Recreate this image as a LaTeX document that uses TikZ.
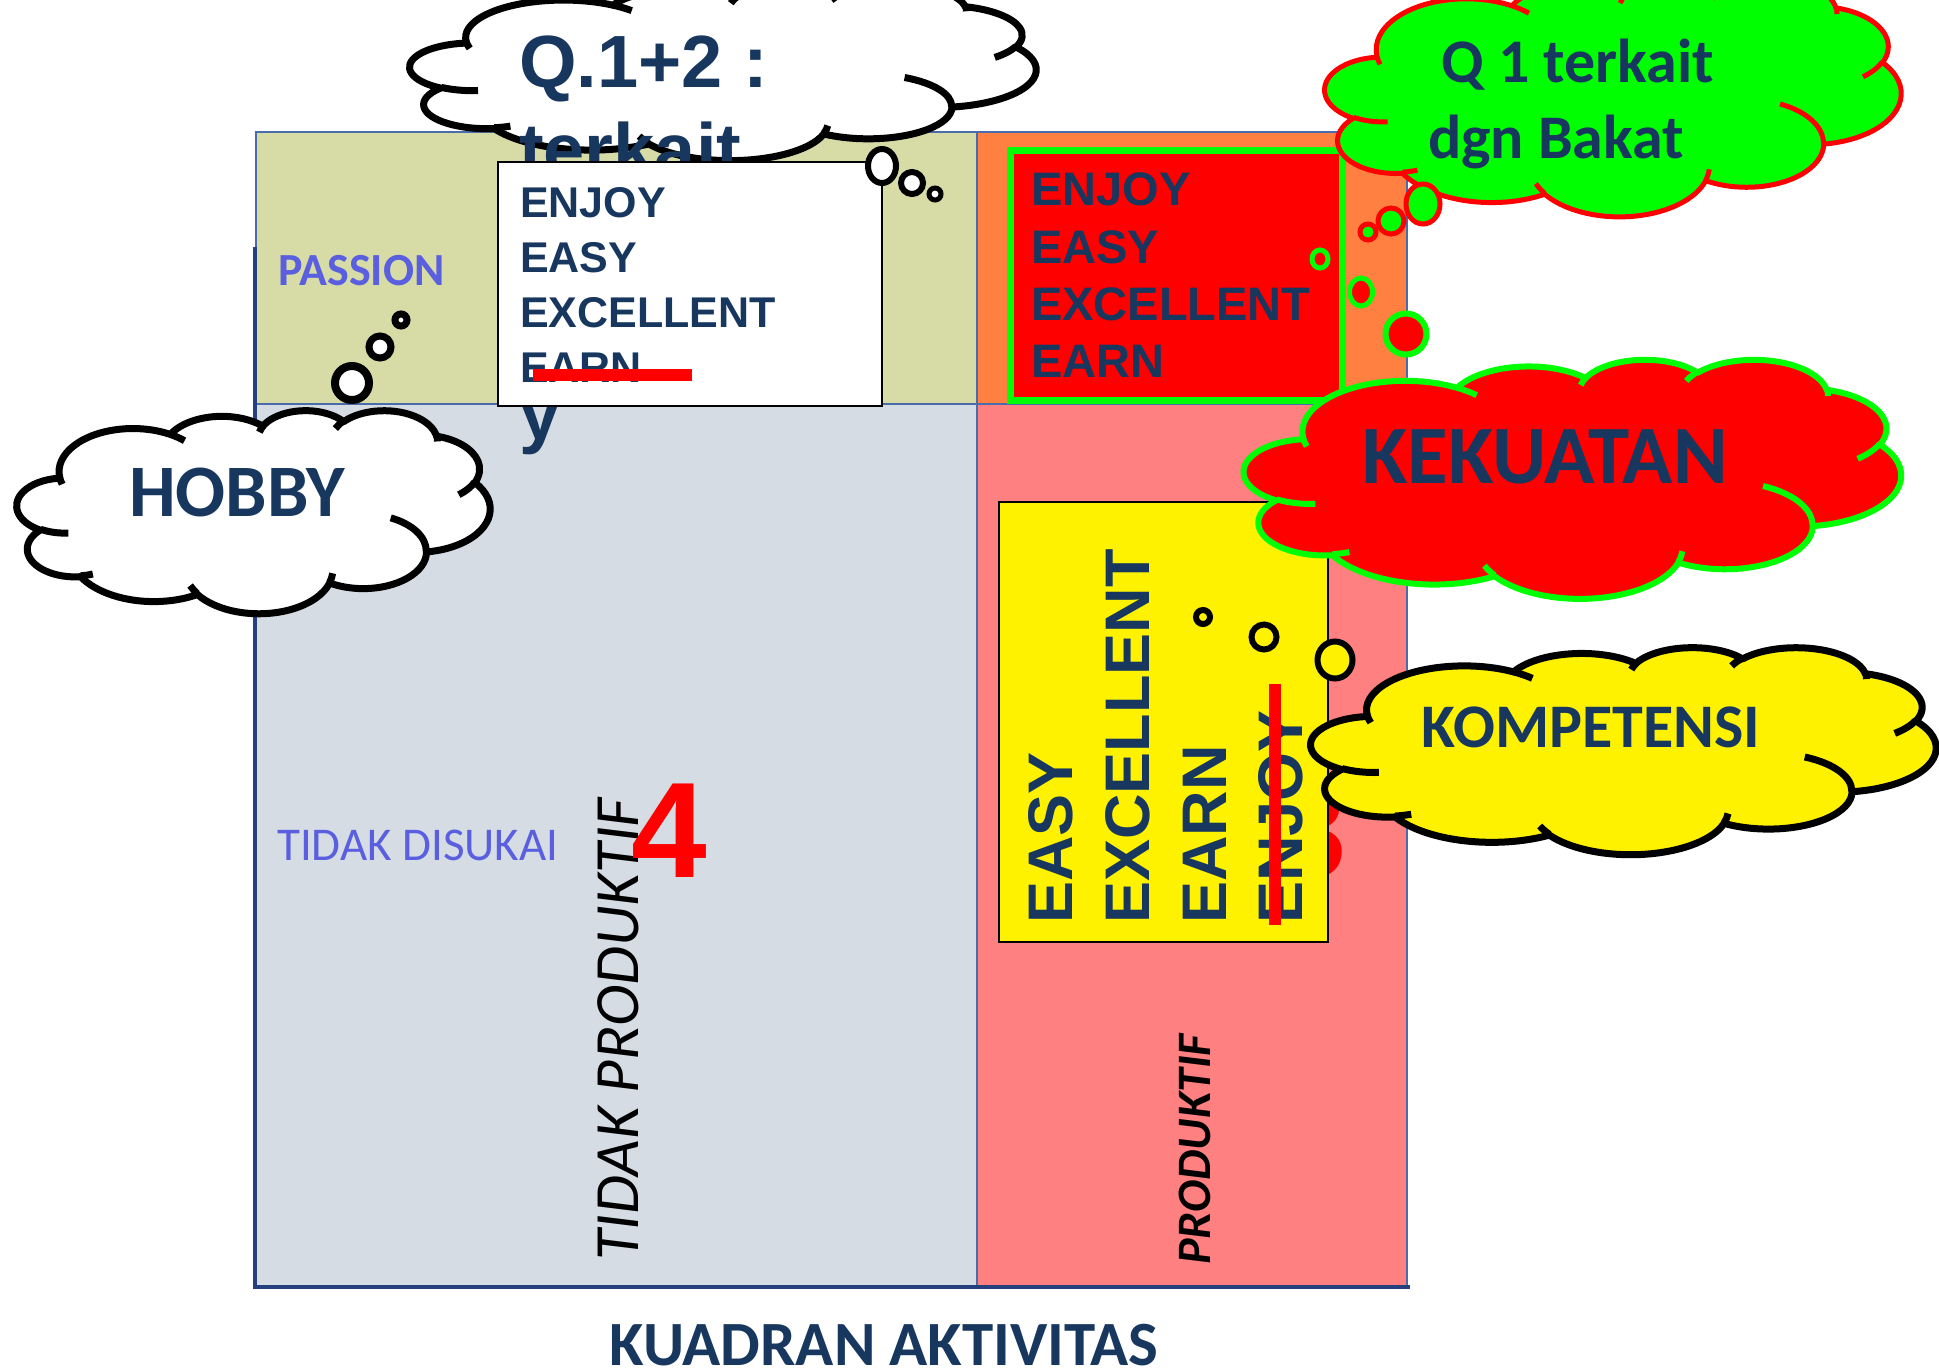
\documentclass[tikz,border=0pt]{standalone}
\usepackage{fontspec}
\newfontfamily\calibri{Carlito}
\newfontfamily\arial{Liberation Sans}

\definecolor{navy}{HTML}{17375E}
\definecolor{lilac}{HTML}{5A5FE0}
\definecolor{khaki}{HTML}{D7DBA5}
\definecolor{bluegray}{HTML}{D5DCE4}
\definecolor{orangeq}{HTML}{FF8040}
\definecolor{salmon}{HTML}{FF8080}
\definecolor{framec}{HTML}{4A6CAA}
\definecolor{axisc}{HTML}{24407F}

% oblak (cloud) v ramecku 43.2 x 43.2, posunuty do (#1,#2), sirka #3, vyska #4
\newcommand{\pptcloud}[5]{%
  \begin{scope}[shift={(#1,#2)},xscale=#3/43.2,yscale=#4/43.2]
    \path[#5,line join=round] (3.900,14.370)
      \foreach \ra/\rb/\sa/\wa
        [evaluate=\sa as \ts using {atan2(\ra*sin(\sa),\rb*cos(\sa))},
         evaluate=\wa as \dt using {mod(atan2(\ra*sin(\sa+\wa),\rb*cos(\sa+\wa))-atan2(\ra*sin(\sa),\rb*cos(\sa))+720,360)}]
      in {6.753/9.190/-190.4875/123.7805, 5.333/7.267/-144.1024/89.9452,
          4.365/5.945/-145.8079/99.7230,  4.857/6.595/-130.9861/117.2417,
          5.333/7.273/-78.7089/109.0269,  6.775/9.220/-46.2673/130.2690,
          5.785/7.867/0.6250/114.0333,    6.752/9.215/22.4516/115.1726,
          7.720/10.543/66.2426/75.7110,   4.360/5.918/-274.9421/146.7356,
          4.345/5.945/-246.8285/152.5189}
      { arc[x radius=\ra,y radius=\rb,start angle=\ts,delta angle=\dt] } -- cycle;
    \path[#5,fill=none]
      \foreach \px/\py/\ra/\rb/\sa/\wa
        [evaluate=\sa as \ts using {atan2(\ra*sin(\sa),\rb*cos(\sa))},
         evaluate=\wa as \dt using {mod(atan2(\ra*sin(\sa+\wa),\rb*cos(\sa+\wa))-atan2(\ra*sin(\sa),\rb*cos(\sa))+720,360)}]
      in {4.693/26.177/4.345/5.945/86.7420/26.4295,
          6.928/34.899/4.360/5.918/73.6105/11.4475,
          16.478/39.090/6.752/9.215/137.6242/14.0811,
          28.827/34.751/6.752/9.215/6.4533/15.9984,
          34.129/22.954/5.785/7.867/-70.2924/70.9174,
          41.798/15.354/5.333/7.273/30.3180/27.7515,
          38.324/5.426/4.857/6.595/-13.7443/14.8589,
          29.078/3.952/4.857/6.595/-149.1815/18.1954,
          22.141/4.720/4.365/5.945/-163.4943/17.6864,
          14.000/5.192/6.753/9.190/-66.7070/12.3194,
          4.127/15.789/6.753/9.190/157.6544/11.8582}
      { (\px,\py) arc[x radius=\ra,y radius=\rb,start angle=\ts,delta angle=\dt] };
  \end{scope}}

\tikzset{
  txt/.style={inner sep=0pt,text=navy},
  arialtxt/.style={txt,font=\arial\bfseries\fontsize{#1}{#1}\selectfont},
  calitxt/.style={txt,font=\calibri\bfseries\fontsize{#1}{#1}\selectfont},
  frameline/.style={draw=framec,line width=2pt},
  bubble/.style={line width=6pt},
}

\begin{document}
\begin{tikzpicture}[xscale=3.51459,yscale=-3.51459]

  \useasboundingbox (0,0) rectangle (19.39,13.72);

  \begin{scope}   % kvadranty

    \def\Lx{2.56};
    \def\Mx{9.77};
    \def\Rx{14.07};
    \def\Ty{1.32};
    \def\My{4.04};
    \def\By{12.86};
    \coordinate (TL) at (\Lx,\Ty);
    \coordinate (C)  at (\Mx,\My);
    \coordinate (BR) at (\Rx,\By);

    \fill[khaki]    (TL) rectangle (C);
    \fill[orangeq]  (\Mx,\Ty) rectangle (\Rx,\My);
    \fill[bluegray] (\Lx,\My) rectangle (\Mx,\By);
    \fill[salmon]   (C) rectangle (BR);
    \draw[frameline] (TL) rectangle (BR);
    \draw[frameline] (\Mx,\Ty) -- (\Mx,\By);
    \draw[frameline] (\Lx,\My) -- (\Rx,\My);
    \draw[draw=axisc,line width=4pt] (2.55,2.47) -- (2.55,12.87) -- (14.10,12.87);

    \node[calitxt=46,text=lilac,anchor=base west] (passion) at (2.78,2.85) {PASSION};
    \node[txt,text=lilac,font=\calibri\fontsize{47}{47}\selectfont,anchor=base west]
         (tidak) at (2.77,8.60) {TIDAK DISUKAI};
    \node[txt,text=black,font=\calibri\itshape\fontsize{63}{63}\selectfont,
          rotate=90,anchor=base west] (tidakprod) at (6.38,12.61) {TIDAK PRODUKTIF};
    \node[txt,text=red,font=\arial\bfseries\fontsize{136}{136}\selectfont,
          anchor=base west] (four) at (6.31,8.77) {4};
    \node[txt,text=red,font=\arial\bfseries\fontsize{136}{136}\selectfont,
          anchor=base east] (three) at (13.47,8.77) {3};
    \node[txt,text=black,font=\calibri\bfseries\itshape\fontsize{48}{48}\selectfont,
          rotate=90,anchor=base west] (prod) at (12.10,12.65) {PRODUKTIF};

  \end{scope}

  % Q.1+2 oblak
  \pptcloud{4.10}{-0.16}{6.26}{1.76}{draw=black,fill=white,line width=7pt}
  \node[arialtxt=74,anchor=base west] (qa) at (5.19,0.87) {Q.1+2 :};
  \node[arialtxt=74,anchor=base west] (qb) at (5.19,1.75) {terkait};
  \node[arialtxt=74,anchor=base west] (qc) at (5.19,4.39) {y};

  % bily ramecek
  \draw[fill=white,line width=1.5pt] (4.98,1.62) rectangle (8.82,4.06);
  \node[arialtxt=43,anchor=base west] (w1) at (5.20,2.17) {ENJOY};
  \node[arialtxt=43,anchor=base west] (w2) at (5.20,2.72) {EASY};
  \node[arialtxt=43,anchor=base west] (w3) at (5.20,3.27) {EXCELLENT};
  \node[arialtxt=43,anchor=base west] (w4) at (5.20,3.82) {EARN};
  \fill[red] (5.33,3.69) rectangle (6.92,3.81);

  \draw[bubble,fill=white] (8.82,1.66) ellipse[x radius=0.14,y radius=0.17];
  \draw[bubble,fill=white] (9.12,1.83) circle[radius=0.11];
  \draw[bubble,line width=5pt,fill=white] (9.35,1.94) circle[radius=0.06];

  % HOBBY
  \pptcloud{0.17}{4.10}{4.73}{2.03}{draw=black,fill=white,line width=7pt}
  \node[calitxt=74,anchor=base] (hobby) at (2.37,5.16) {HOBBY};
  \draw[bubble,line width=8pt,fill=white] (3.52,3.83) circle[radius=0.17];
  \draw[bubble,line width=7pt,fill=white] (3.80,3.47) circle[radius=0.11];
  \draw[bubble,line width=7pt,fill=white] (4.01,3.20) circle[radius=0.06];

  % cerveny ramecek
  \draw[fill=red,draw=green,line width=7pt] (10.10,1.50) rectangle (13.42,4.00);
  \node[arialtxt=47,anchor=base west] (r1) at (10.31,2.05) {ENJOY};
  \node[arialtxt=47,anchor=base west] (r2) at (10.31,2.63) {EASY};
  \node[arialtxt=47,anchor=base west] (r3) at (10.31,3.20) {EXCELLENT};
  \node[arialtxt=47,anchor=base west] (r4) at (10.31,3.77) {EARN};

  % Q 1 - bakat
  \pptcloud{13.25}{-0.23}{5.76}{2.39}{draw=red,fill=green,line width=5pt}
  \node[calitxt=62,anchor=base] (bakat1) at (15.78,0.82) {Q 1 terkait};
  \node[calitxt=62,anchor=base] (bakat2) at (15.56,1.58) {dgn Bakat};
  \draw[bubble,line width=5pt,draw=red,fill=green] (14.23,2.04) ellipse[x radius=0.17,y radius=0.20];
  \draw[bubble,line width=5pt,draw=red,fill=green] (13.91,2.21) circle[radius=0.13];
  \draw[bubble,line width=5pt,draw=red,fill=green] (13.68,2.32) circle[radius=0.08];

  \draw[bubble,line width=5pt,draw=green,fill=red] (13.20,2.59) ellipse[x radius=0.08,y radius=0.09];
  \draw[bubble,line width=5pt,draw=green,fill=red] (13.61,2.92) ellipse[x radius=0.115,y radius=0.14];
  \draw[bubble,draw=green,fill=red] (14.06,3.34) circle[radius=0.205];

  % zluty ramecek
  \draw[fill=yellow,line width=1.5pt] (9.99,5.02) rectangle (13.28,9.42);
  \node[arialtxt=63,rotate=90,anchor=base west] (y1) at (10.72,9.24) {EASY};
  \node[arialtxt=63,rotate=90,anchor=base west] (y2) at (11.49,9.24) {EXCELLENT};
  \node[arialtxt=63,rotate=90,anchor=base west] (y3) at (12.26,9.24) {EARN};
  \node[arialtxt=63,rotate=90,anchor=base west] (y4) at (13.02,9.24) {ENJOY};
  \fill[red] (12.69,6.84) rectangle (12.81,9.25);

  % KEKUATAN
  \pptcloud{12.44}{3.59}{6.57}{2.39}{draw=green,fill=red,line width=6pt}
  \node[calitxt=83,anchor=base] (kekuatan) at (15.45,4.83) {KEKUATAN};

  % KOMPETENSI
  \draw[bubble,fill=yellow] (12.03,6.17) circle[radius=0.07];
  \draw[bubble,fill=yellow] (12.64,6.37) circle[radius=0.125];
  \draw[bubble,fill=yellow] (13.35,6.60) ellipse[x radius=0.175,y radius=0.185];
  \pptcloud{13.11}{6.47}{6.25}{2.07}{draw=black,fill=yellow,line width=7pt}
  \node[calitxt=62,anchor=base] (kompetensi) at (15.91,7.47) {KOMPETENSI};

  \node[calitxt=63,anchor=base] (kuadran) at (8.84,13.65) {KUADRAN AKTIVITAS};

\end{tikzpicture}
\end{document}
